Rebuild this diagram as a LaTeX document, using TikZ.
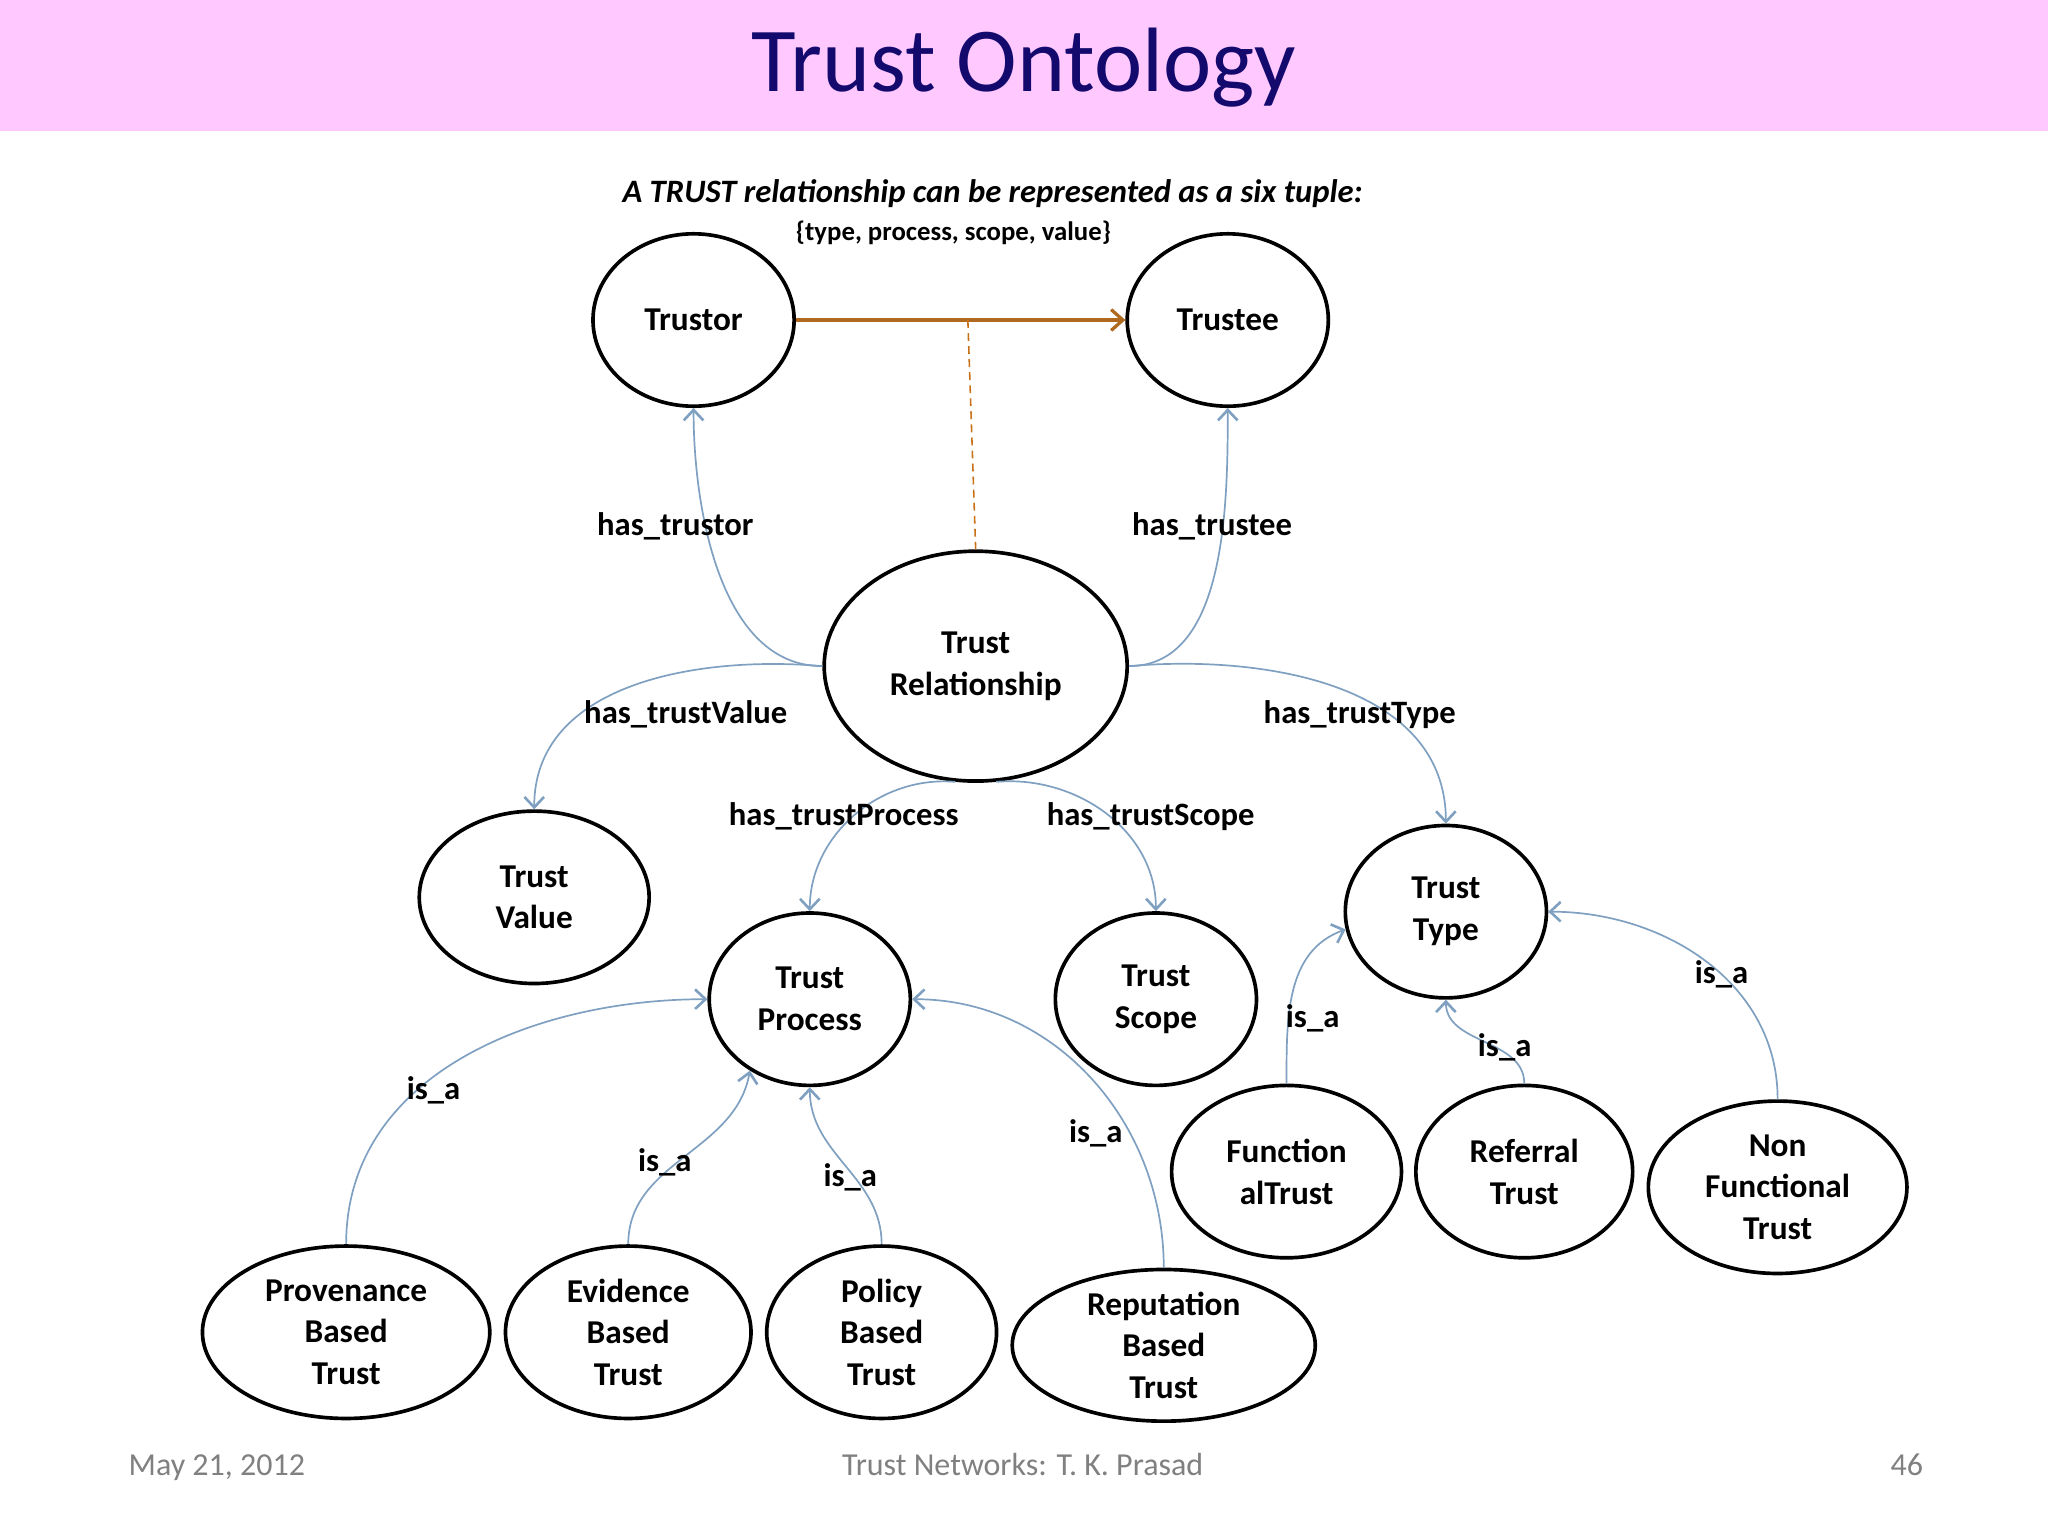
\documentclass[tikz,border=0pt]{standalone}
\usepackage{fontspec}
\setmainfont{Carlito}
\usetikzlibrary{shapes.geometric,arrows.meta}
\definecolor{edge}{HTML}{7FA0C0}
\definecolor{titlec}{HTML}{140A6E}
\definecolor{brownc}{HTML}{B06A20}
\definecolor{pinkc}{HTML}{FFC8FF}
\begin{document}
\begin{tikzpicture}[x=1pt,y=-1pt,
  el/.style={ellipse,draw,line width=2.8pt,inner sep=0pt,align=center,font=\fontsize{25.5}{32}\selectfont\bfseries},
  rel/.style={draw=edge,line width=1.3pt,-{Straight Barb[length=8pt,width=15pt,line width=2pt]}},
  lab/.style={font=\fontsize{25}{28}\selectfont\bfseries,inner sep=1pt}]
\useasboundingbox (0,0) rectangle (1568,1176);
\fill[white] (0,0) rectangle (1568,1176);
\fill[pinkc] (0,0) rectangle (1568,100);
\node[text=titlec,font=\fontsize{70}{74}\selectfont] (title) at (784,52) {Trust Ontology};
\node[font=\fontsize{25}{28}\selectfont\bfseries\itshape] (t1) at (760,148) {A TRUST relationship can be represented as a six tuple:};
\node[font=\fontsize{20.5}{24}\selectfont\bfseries] (t2) at (730,178) {\{type, process, scope, value\}};

\node[el,minimum width=154,minimum height=132] (tor) at (531,245) {Trustor};
\node[el,minimum width=154,minimum height=132] (tee) at (940,245) {Trustee};
\node[el,minimum width=232,minimum height=176] (tr) at (747,510) {Trust\\Relationship};
\node[el,minimum width=176,minimum height=132] (tv) at (409,687) {Trust\\Value};
\node[el,minimum width=154,minimum height=132] (tp) at (620,765) {Trust\\Process};
\node[el,minimum width=154,minimum height=132] (ts) at (885,765) {Trust\\Scope};
\node[el,minimum width=154,minimum height=132] (tt) at (1107,698) {Trust\\Type};
\node[el,minimum width=220,minimum height=132] (pb) at (265,1020) {Provenance\\Based\\Trust};
\node[el,minimum width=188,minimum height=132] (eb) at (481,1020) {Evidence\\Based\\Trust};
\node[el,minimum width=176,minimum height=132] (pol) at (675,1020) {Policy\\Based\\Trust};
\node[el,minimum width=232,minimum height=112] (rb) at (891,1030) {Reputation\\Based\\Trust};
\node[el,minimum width=176,minimum height=132] (fu) at (985,897) {Function\\alTrust};
\node[el,minimum width=166,minimum height=132] (rf) at (1167,897) {Referral\\Trust};
\node[el,minimum width=198,minimum height=132] (nf) at (1361,909) {Non\\Functional\\Trust};

\draw[brownc,line width=2.5pt,-{Straight Barb[length=9pt,width=16pt]}] (tor.east) -- (tee.west);
\coordinate (mid) at (741,245);
\draw[brownc!70!orange,line width=1.2pt,dash pattern=on 6pt off 4pt] (mid) -- (tr.north);

\draw[rel] (tr.west) to[out=180,in=-90,looseness=0.9] (tor.south);
\draw[rel] (tr.east) to[out=0,in=-90,looseness=0.9] (tee.south);
\draw[rel] (tr.west) to[out=175,in=90] (tv.north);
\draw[rel] (tr.east) to[out=5,in=90] (tt.north);
\draw[rel] (tr.-100) to[out=175,in=90] (tp.north);
\draw[rel] (tr.-80) to[out=5,in=90] (ts.north);
\draw[rel] (pb.north) to[out=90,in=180] (tp.west);
\draw[rel] (eb.north) to[out=90,in=-100] (tp.-130);
\draw[rel] (pol.north) to[out=90,in=-90] (tp.south);
\draw[rel] (rb.north) to[out=90,in=0] (tp.east);
\draw[rel] (fu.north) to[out=90,in=200] (tt.190);
\draw[rel] (rf.north) to[out=90,in=-90] (tt.south);
\draw[rel] (nf.north) to[out=90,in=0] (tt.east);

\node[lab] (l1) at (517,403) {has\_trustor};
\node[lab] (l2) at (928,403) {has\_trustee};
\node[lab] (l3) at (525,547) {has\_trustValue};
\node[lab] (l4) at (1041,547) {has\_trustType};
\node[lab] (l5) at (646,625) {has\_trustProcess};
\node[lab] (l6) at (881,625) {has\_trustScope};
\node[lab] (l7) at (332,835) {is\_a};
\node[lab] (l8) at (509,890) {is\_a};
\node[lab] (l9) at (651,901) {is\_a};
\node[lab] (l10) at (839,868) {is\_a};
\node[lab] (l11) at (1005,780) {is\_a};
\node[lab] (l12) at (1152,802) {is\_a};
\node[lab] (l13) at (1318,746) {is\_a};

\node[text=gray,font=\fontsize{24.5}{28}\selectfont,anchor=base] (f1) at (166,1130) {May 21, 2012};
\node[text=gray,font=\fontsize{24.5}{28}\selectfont,anchor=base] (f2) at (783,1130) {Trust Networks: T. K. Prasad};
\node[text=gray,font=\fontsize{24.5}{28}\selectfont,anchor=base] (f3) at (1460,1130) {46};
\end{tikzpicture}
\end{document}
